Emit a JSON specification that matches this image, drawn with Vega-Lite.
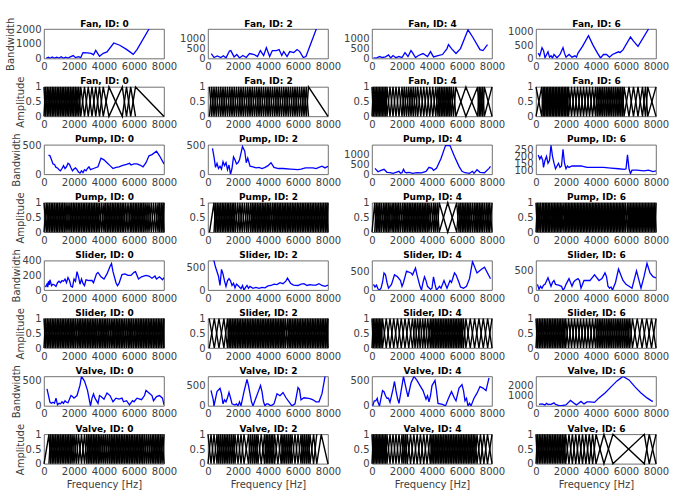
{
"$schema":"https://vega.github.io/schema/vega-lite/v6.json",
"padding":{"left":5,"top":16,"right":5,"bottom":3},
"columns":4,
"spacing":{"row":27.9,"column":44},
"bounds":"flush",
"concat":[
{"data":{"name":"bF0"},"encoding":{"y":{"field":"v","type":"quantitative","scale":{"domain":[0,2000]},"axis":{"values":[0,1000,2000],"title":"Bandwidth"}}},"layer":[{"mark":{"type":"line","clip":true,"color":"#0000ff","strokeWidth":1.3},"encoding":{"x":{"field":"f","type":"quantitative","scale":{"domain":[0,8000]},"axis":{"values":[0,2000,4000,6000,8000],"title":null,"labelOverlap":false}}}},{"mark":{"type":"line","strokeOpacity":0},"encoding":{"x":{"field":"f","type":"quantitative","axis":{"orient":"top","title":"Fan, ID: 0"}}}}],"resolve":{"axis":{"x":"independent"}}},
{"data":{"name":"bF2"},"encoding":{"y":{"field":"v","type":"quantitative","scale":{"domain":[0,1490]},"axis":{"values":[0,500,1000],"title":null}}},"layer":[{"mark":{"type":"line","clip":true,"color":"#0000ff","strokeWidth":1.3},"encoding":{"x":{"field":"f","type":"quantitative","scale":{"domain":[0,8000]},"axis":{"values":[0,2000,4000,6000,8000],"title":null,"labelOverlap":false}}}},{"mark":{"type":"line","strokeOpacity":0},"encoding":{"x":{"field":"f","type":"quantitative","axis":{"orient":"top","title":"Fan, ID: 2"}}}}],"resolve":{"axis":{"x":"independent"}}},
{"data":{"name":"bF4"},"encoding":{"y":{"field":"v","type":"quantitative","scale":{"domain":[0,1490]},"axis":{"values":[0,500,1000],"title":null}}},"layer":[{"mark":{"type":"line","clip":true,"color":"#0000ff","strokeWidth":1.3},"encoding":{"x":{"field":"f","type":"quantitative","scale":{"domain":[0,8000]},"axis":{"values":[0,2000,4000,6000,8000],"title":null,"labelOverlap":false}}}},{"mark":{"type":"line","strokeOpacity":0},"encoding":{"x":{"field":"f","type":"quantitative","axis":{"orient":"top","title":"Fan, ID: 4"}}}}],"resolve":{"axis":{"x":"independent"}}},
{"data":{"name":"bF6"},"encoding":{"y":{"field":"v","type":"quantitative","scale":{"domain":[0,1100]},"axis":{"values":[0,500,1000],"title":null}}},"layer":[{"mark":{"type":"line","clip":true,"color":"#0000ff","strokeWidth":1.3},"encoding":{"x":{"field":"f","type":"quantitative","scale":{"domain":[0,8000]},"axis":{"values":[0,2000,4000,6000,8000],"title":null,"labelOverlap":false}}}},{"mark":{"type":"line","strokeOpacity":0},"encoding":{"x":{"field":"f","type":"quantitative","axis":{"orient":"top","title":"Fan, ID: 6"}}}}],"resolve":{"axis":{"x":"independent"}}},
{"data":{"name":"aF0"},"layer":[{"mark":{"type":"line","color":"#000","strokeWidth":1.4},"encoding":{"x":{"field":"f","type":"quantitative","scale":{"domain":[0,8000]},"axis":{"values":[0,2000,4000,6000,8000],"title":null,"labelOverlap":false}},"y":{"field":"u","type":"quantitative","scale":{"domain":[0,1]},"axis":{"values":[0,0.5,1],"format":".1~f","title":"Amplitude"}}}},{"transform":[{"filter":"!datum.s"}],"mark":{"type":"line","color":"#000","strokeWidth":1.4},"encoding":{"x":{"field":"f","type":"quantitative","axis":{"orient":"top","title":"Fan, ID: 0"}},"y":{"field":"u","type":"quantitative","scale":{"domain":[0,1],"reverse":true},"axis":null}}}],"resolve":{"scale":{"y":"independent"},"axis":{"x":"independent"}}},
{"data":{"name":"aF2"},"layer":[{"mark":{"type":"line","color":"#000","strokeWidth":1.4},"encoding":{"x":{"field":"f","type":"quantitative","scale":{"domain":[0,8000]},"axis":{"values":[0,2000,4000,6000,8000],"title":null,"labelOverlap":false}},"y":{"field":"u","type":"quantitative","scale":{"domain":[0,1]},"axis":{"values":[0,0.5,1],"format":".1~f","title":null}}}},{"transform":[{"filter":"!datum.s"}],"mark":{"type":"line","color":"#000","strokeWidth":1.4},"encoding":{"x":{"field":"f","type":"quantitative","axis":{"orient":"top","title":"Fan, ID: 2"}},"y":{"field":"u","type":"quantitative","scale":{"domain":[0,1],"reverse":true},"axis":null}}}],"resolve":{"scale":{"y":"independent"},"axis":{"x":"independent"}}},
{"data":{"name":"aF4"},"layer":[{"mark":{"type":"line","color":"#000","strokeWidth":1.4},"encoding":{"x":{"field":"f","type":"quantitative","scale":{"domain":[0,8000]},"axis":{"values":[0,2000,4000,6000,8000],"title":null,"labelOverlap":false}},"y":{"field":"u","type":"quantitative","scale":{"domain":[0,1]},"axis":{"values":[0,0.5,1],"format":".1~f","title":null}}}},{"transform":[{"filter":"!datum.s"}],"mark":{"type":"line","color":"#000","strokeWidth":1.4},"encoding":{"x":{"field":"f","type":"quantitative","axis":{"orient":"top","title":"Fan, ID: 4"}},"y":{"field":"u","type":"quantitative","scale":{"domain":[0,1],"reverse":true},"axis":null}}}],"resolve":{"scale":{"y":"independent"},"axis":{"x":"independent"}}},
{"data":{"name":"aF6"},"layer":[{"mark":{"type":"line","color":"#000","strokeWidth":1.4},"encoding":{"x":{"field":"f","type":"quantitative","scale":{"domain":[0,8000]},"axis":{"values":[0,2000,4000,6000,8000],"title":null,"labelOverlap":false}},"y":{"field":"u","type":"quantitative","scale":{"domain":[0,1]},"axis":{"values":[0,0.5,1],"format":".1~f","title":null}}}},{"transform":[{"filter":"!datum.s"}],"mark":{"type":"line","color":"#000","strokeWidth":1.4},"encoding":{"x":{"field":"f","type":"quantitative","axis":{"orient":"top","title":"Fan, ID: 6"}},"y":{"field":"u","type":"quantitative","scale":{"domain":[0,1],"reverse":true},"axis":null}}}],"resolve":{"scale":{"y":"independent"},"axis":{"x":"independent"}}},
{"data":{"name":"bP0"},"encoding":{"y":{"field":"v","type":"quantitative","scale":{"domain":[0,510]},"axis":{"values":[0,500],"title":"Bandwidth"}}},"layer":[{"mark":{"type":"line","clip":true,"color":"#0000ff","strokeWidth":1.3},"encoding":{"x":{"field":"f","type":"quantitative","scale":{"domain":[0,8000]},"axis":{"values":[0,2000,4000,6000,8000],"title":null,"labelOverlap":false}}}},{"mark":{"type":"line","strokeOpacity":0},"encoding":{"x":{"field":"f","type":"quantitative","axis":{"orient":"top","title":"Pump, ID: 0"}}}}],"resolve":{"axis":{"x":"independent"}}},
{"data":{"name":"bP2"},"encoding":{"y":{"field":"v","type":"quantitative","scale":{"domain":[0,510]},"axis":{"values":[0,500],"title":null}}},"layer":[{"mark":{"type":"line","clip":true,"color":"#0000ff","strokeWidth":1.3},"encoding":{"x":{"field":"f","type":"quantitative","scale":{"domain":[0,8000]},"axis":{"values":[0,2000,4000,6000,8000],"title":null,"labelOverlap":false}}}},{"mark":{"type":"line","strokeOpacity":0},"encoding":{"x":{"field":"f","type":"quantitative","axis":{"orient":"top","title":"Pump, ID: 2"}}}}],"resolve":{"axis":{"x":"independent"}}},
{"data":{"name":"bP4"},"encoding":{"y":{"field":"v","type":"quantitative","scale":{"domain":[0,1490]},"axis":{"values":[0,500,1000],"title":null}}},"layer":[{"mark":{"type":"line","clip":true,"color":"#0000ff","strokeWidth":1.3},"encoding":{"x":{"field":"f","type":"quantitative","scale":{"domain":[0,8000]},"axis":{"values":[0,2000,4000,6000,8000],"title":null,"labelOverlap":false}}}},{"mark":{"type":"line","strokeOpacity":0},"encoding":{"x":{"field":"f","type":"quantitative","axis":{"orient":"top","title":"Pump, ID: 4"}}}}],"resolve":{"axis":{"x":"independent"}}},
{"data":{"name":"bP6"},"encoding":{"y":{"field":"v","type":"quantitative","scale":{"domain":[70,283]},"axis":{"values":[100,150,200,250],"title":null}}},"layer":[{"mark":{"type":"line","clip":true,"color":"#0000ff","strokeWidth":1.3},"encoding":{"x":{"field":"f","type":"quantitative","scale":{"domain":[0,8000]},"axis":{"values":[0,2000,4000,6000,8000],"title":null,"labelOverlap":false}}}},{"mark":{"type":"line","strokeOpacity":0},"encoding":{"x":{"field":"f","type":"quantitative","axis":{"orient":"top","title":"Pump, ID: 6"}}}}],"resolve":{"axis":{"x":"independent"}}},
{"data":{"name":"aP0"},"layer":[{"mark":{"type":"line","color":"#000","strokeWidth":1.4},"encoding":{"x":{"field":"f","type":"quantitative","scale":{"domain":[0,8000]},"axis":{"values":[0,2000,4000,6000,8000],"title":null,"labelOverlap":false}},"y":{"field":"u","type":"quantitative","scale":{"domain":[0,1]},"axis":{"values":[0,0.5,1],"format":".1~f","title":"Amplitude"}}}},{"transform":[{"filter":"!datum.s"}],"mark":{"type":"line","color":"#000","strokeWidth":1.4},"encoding":{"x":{"field":"f","type":"quantitative","axis":{"orient":"top","title":"Pump, ID: 0"}},"y":{"field":"u","type":"quantitative","scale":{"domain":[0,1],"reverse":true},"axis":null}}}],"resolve":{"scale":{"y":"independent"},"axis":{"x":"independent"}}},
{"data":{"name":"aP2"},"layer":[{"mark":{"type":"line","color":"#000","strokeWidth":1.4},"encoding":{"x":{"field":"f","type":"quantitative","scale":{"domain":[0,8000]},"axis":{"values":[0,2000,4000,6000,8000],"title":null,"labelOverlap":false}},"y":{"field":"u","type":"quantitative","scale":{"domain":[0,1]},"axis":{"values":[0,0.5,1],"format":".1~f","title":null}}}},{"transform":[{"filter":"!datum.s"}],"mark":{"type":"line","color":"#000","strokeWidth":1.4},"encoding":{"x":{"field":"f","type":"quantitative","axis":{"orient":"top","title":"Pump, ID: 2"}},"y":{"field":"u","type":"quantitative","scale":{"domain":[0,1],"reverse":true},"axis":null}}}],"resolve":{"scale":{"y":"independent"},"axis":{"x":"independent"}}},
{"data":{"name":"aP4"},"layer":[{"mark":{"type":"line","color":"#000","strokeWidth":1.4},"encoding":{"x":{"field":"f","type":"quantitative","scale":{"domain":[0,8000]},"axis":{"values":[0,2000,4000,6000,8000],"title":null,"labelOverlap":false}},"y":{"field":"u","type":"quantitative","scale":{"domain":[0,1]},"axis":{"values":[0,0.5,1],"format":".1~f","title":null}}}},{"transform":[{"filter":"!datum.s"}],"mark":{"type":"line","color":"#000","strokeWidth":1.4},"encoding":{"x":{"field":"f","type":"quantitative","axis":{"orient":"top","title":"Pump, ID: 4"}},"y":{"field":"u","type":"quantitative","scale":{"domain":[0,1],"reverse":true},"axis":null}}}],"resolve":{"scale":{"y":"independent"},"axis":{"x":"independent"}}},
{"data":{"name":"aP6"},"layer":[{"mark":{"type":"line","color":"#000","strokeWidth":1.4},"encoding":{"x":{"field":"f","type":"quantitative","scale":{"domain":[0,8000]},"axis":{"values":[0,2000,4000,6000,8000],"title":null,"labelOverlap":false}},"y":{"field":"u","type":"quantitative","scale":{"domain":[0,1]},"axis":{"values":[0,0.5,1],"format":".1~f","title":null}}}},{"transform":[{"filter":"!datum.s"}],"mark":{"type":"line","color":"#000","strokeWidth":1.4},"encoding":{"x":{"field":"f","type":"quantitative","axis":{"orient":"top","title":"Pump, ID: 6"}},"y":{"field":"u","type":"quantitative","scale":{"domain":[0,1],"reverse":true},"axis":null}}}],"resolve":{"scale":{"y":"independent"},"axis":{"x":"independent"}}},
{"data":{"name":"bS0"},"encoding":{"y":{"field":"v","type":"quantitative","scale":{"domain":[0,400]},"axis":{"values":[0,200,400],"title":"Bandwidth"}}},"layer":[{"mark":{"type":"line","clip":true,"color":"#0000ff","strokeWidth":1.3},"encoding":{"x":{"field":"f","type":"quantitative","scale":{"domain":[0,8000]},"axis":{"values":[0,2000,4000,6000,8000],"title":null,"labelOverlap":false}}}},{"mark":{"type":"line","strokeOpacity":0},"encoding":{"x":{"field":"f","type":"quantitative","axis":{"orient":"top","title":"Slider, ID: 0"}}}}],"resolve":{"axis":{"x":"independent"}}},
{"data":{"name":"bS2"},"encoding":{"y":{"field":"v","type":"quantitative","scale":{"domain":[0,640]},"axis":{"values":[0,500],"title":null}}},"layer":[{"mark":{"type":"line","clip":true,"color":"#0000ff","strokeWidth":1.3},"encoding":{"x":{"field":"f","type":"quantitative","scale":{"domain":[0,8000]},"axis":{"values":[0,2000,4000,6000,8000],"title":null,"labelOverlap":false}}}},{"mark":{"type":"line","strokeOpacity":0},"encoding":{"x":{"field":"f","type":"quantitative","axis":{"orient":"top","title":"Slider, ID: 2"}}}}],"resolve":{"axis":{"x":"independent"}}},
{"data":{"name":"bS4"},"encoding":{"y":{"field":"v","type":"quantitative","scale":{"domain":[0,775]},"axis":{"values":[0,500],"title":null}}},"layer":[{"mark":{"type":"line","clip":true,"color":"#0000ff","strokeWidth":1.3},"encoding":{"x":{"field":"f","type":"quantitative","scale":{"domain":[0,8000]},"axis":{"values":[0,2000,4000,6000,8000],"title":null,"labelOverlap":false}}}},{"mark":{"type":"line","strokeOpacity":0},"encoding":{"x":{"field":"f","type":"quantitative","axis":{"orient":"top","title":"Slider, ID: 4"}}}}],"resolve":{"axis":{"x":"independent"}}},
{"data":{"name":"bS6"},"encoding":{"y":{"field":"v","type":"quantitative","scale":{"domain":[0,770]},"axis":{"values":[0,500],"title":null}}},"layer":[{"mark":{"type":"line","clip":true,"color":"#0000ff","strokeWidth":1.3},"encoding":{"x":{"field":"f","type":"quantitative","scale":{"domain":[0,8000]},"axis":{"values":[0,2000,4000,6000,8000],"title":null,"labelOverlap":false}}}},{"mark":{"type":"line","strokeOpacity":0},"encoding":{"x":{"field":"f","type":"quantitative","axis":{"orient":"top","title":"Slider, ID: 6"}}}}],"resolve":{"axis":{"x":"independent"}}},
{"data":{"name":"aS0"},"layer":[{"mark":{"type":"line","color":"#000","strokeWidth":1.4},"encoding":{"x":{"field":"f","type":"quantitative","scale":{"domain":[0,8000]},"axis":{"values":[0,2000,4000,6000,8000],"title":null,"labelOverlap":false}},"y":{"field":"u","type":"quantitative","scale":{"domain":[0,1]},"axis":{"values":[0,0.5,1],"format":".1~f","title":"Amplitude"}}}},{"transform":[{"filter":"!datum.s"}],"mark":{"type":"line","color":"#000","strokeWidth":1.4},"encoding":{"x":{"field":"f","type":"quantitative","axis":{"orient":"top","title":"Slider, ID: 0"}},"y":{"field":"u","type":"quantitative","scale":{"domain":[0,1],"reverse":true},"axis":null}}}],"resolve":{"scale":{"y":"independent"},"axis":{"x":"independent"}}},
{"data":{"name":"aS2"},"layer":[{"mark":{"type":"line","color":"#000","strokeWidth":1.4},"encoding":{"x":{"field":"f","type":"quantitative","scale":{"domain":[0,8000]},"axis":{"values":[0,2000,4000,6000,8000],"title":null,"labelOverlap":false}},"y":{"field":"u","type":"quantitative","scale":{"domain":[0,1]},"axis":{"values":[0,0.5,1],"format":".1~f","title":null}}}},{"transform":[{"filter":"!datum.s"}],"mark":{"type":"line","color":"#000","strokeWidth":1.4},"encoding":{"x":{"field":"f","type":"quantitative","axis":{"orient":"top","title":"Slider, ID: 2"}},"y":{"field":"u","type":"quantitative","scale":{"domain":[0,1],"reverse":true},"axis":null}}}],"resolve":{"scale":{"y":"independent"},"axis":{"x":"independent"}}},
{"data":{"name":"aS4"},"layer":[{"mark":{"type":"line","color":"#000","strokeWidth":1.4},"encoding":{"x":{"field":"f","type":"quantitative","scale":{"domain":[0,8000]},"axis":{"values":[0,2000,4000,6000,8000],"title":null,"labelOverlap":false}},"y":{"field":"u","type":"quantitative","scale":{"domain":[0,1]},"axis":{"values":[0,0.5,1],"format":".1~f","title":null}}}},{"transform":[{"filter":"!datum.s"}],"mark":{"type":"line","color":"#000","strokeWidth":1.4},"encoding":{"x":{"field":"f","type":"quantitative","axis":{"orient":"top","title":"Slider, ID: 4"}},"y":{"field":"u","type":"quantitative","scale":{"domain":[0,1],"reverse":true},"axis":null}}}],"resolve":{"scale":{"y":"independent"},"axis":{"x":"independent"}}},
{"data":{"name":"aS6"},"layer":[{"mark":{"type":"line","color":"#000","strokeWidth":1.4},"encoding":{"x":{"field":"f","type":"quantitative","scale":{"domain":[0,8000]},"axis":{"values":[0,2000,4000,6000,8000],"title":null,"labelOverlap":false}},"y":{"field":"u","type":"quantitative","scale":{"domain":[0,1]},"axis":{"values":[0,0.5,1],"format":".1~f","title":null}}}},{"transform":[{"filter":"!datum.s"}],"mark":{"type":"line","color":"#000","strokeWidth":1.4},"encoding":{"x":{"field":"f","type":"quantitative","axis":{"orient":"top","title":"Slider, ID: 6"}},"y":{"field":"u","type":"quantitative","scale":{"domain":[0,1],"reverse":true},"axis":null}}}],"resolve":{"scale":{"y":"independent"},"axis":{"x":"independent"}}},
{"data":{"name":"bV0"},"encoding":{"y":{"field":"v","type":"quantitative","scale":{"domain":[0,570]},"axis":{"values":[0,500],"title":"Bandwidth"}}},"layer":[{"mark":{"type":"line","clip":true,"color":"#0000ff","strokeWidth":1.3},"encoding":{"x":{"field":"f","type":"quantitative","scale":{"domain":[0,8000]},"axis":{"values":[0,2000,4000,6000,8000],"title":null,"labelOverlap":false}}}},{"mark":{"type":"line","strokeOpacity":0},"encoding":{"x":{"field":"f","type":"quantitative","axis":{"orient":"top","title":"Valve, ID: 0"}}}}],"resolve":{"axis":{"x":"independent"}}},
{"data":{"name":"bV2"},"encoding":{"y":{"field":"v","type":"quantitative","scale":{"domain":[0,725]},"axis":{"values":[0,500],"title":null}}},"layer":[{"mark":{"type":"line","clip":true,"color":"#0000ff","strokeWidth":1.3},"encoding":{"x":{"field":"f","type":"quantitative","scale":{"domain":[0,8000]},"axis":{"values":[0,2000,4000,6000,8000],"title":null,"labelOverlap":false}}}},{"mark":{"type":"line","strokeOpacity":0},"encoding":{"x":{"field":"f","type":"quantitative","axis":{"orient":"top","title":"Valve, ID: 2"}}}}],"resolve":{"axis":{"x":"independent"}}},
{"data":{"name":"bV4"},"encoding":{"y":{"field":"v","type":"quantitative","scale":{"domain":[0,580]},"axis":{"values":[0,500],"title":null}}},"layer":[{"mark":{"type":"line","clip":true,"color":"#0000ff","strokeWidth":1.3},"encoding":{"x":{"field":"f","type":"quantitative","scale":{"domain":[0,8000]},"axis":{"values":[0,2000,4000,6000,8000],"title":null,"labelOverlap":false}}}},{"mark":{"type":"line","strokeOpacity":0},"encoding":{"x":{"field":"f","type":"quantitative","axis":{"orient":"top","title":"Valve, ID: 4"}}}}],"resolve":{"axis":{"x":"independent"}}},
{"data":{"name":"bV6"},"encoding":{"y":{"field":"v","type":"quantitative","scale":{"domain":[0,2950]},"axis":{"values":[0,1000,2000],"title":null}}},"layer":[{"mark":{"type":"line","clip":true,"color":"#0000ff","strokeWidth":1.3},"encoding":{"x":{"field":"f","type":"quantitative","scale":{"domain":[0,8000]},"axis":{"values":[0,2000,4000,6000,8000],"title":null,"labelOverlap":false}}}},{"mark":{"type":"line","strokeOpacity":0},"encoding":{"x":{"field":"f","type":"quantitative","axis":{"orient":"top","title":"Valve, ID: 6"}}}}],"resolve":{"axis":{"x":"independent"}}},
{"data":{"name":"aV0"},"layer":[{"mark":{"type":"line","color":"#000","strokeWidth":1.4},"encoding":{"x":{"field":"f","type":"quantitative","scale":{"domain":[0,8000]},"axis":{"values":[0,2000,4000,6000,8000],"title":"Frequency [Hz]","labelOverlap":false}},"y":{"field":"u","type":"quantitative","scale":{"domain":[0,1]},"axis":{"values":[0,0.5,1],"format":".1~f","title":"Amplitude"}}}},{"transform":[{"filter":"!datum.s"}],"mark":{"type":"line","color":"#000","strokeWidth":1.4},"encoding":{"x":{"field":"f","type":"quantitative","axis":{"orient":"top","title":"Valve, ID: 0"}},"y":{"field":"u","type":"quantitative","scale":{"domain":[0,1],"reverse":true},"axis":null}}}],"resolve":{"scale":{"y":"independent"},"axis":{"x":"independent"}}},
{"data":{"name":"aV2"},"layer":[{"mark":{"type":"line","color":"#000","strokeWidth":1.4},"encoding":{"x":{"field":"f","type":"quantitative","scale":{"domain":[0,8000]},"axis":{"values":[0,2000,4000,6000,8000],"title":"Frequency [Hz]","labelOverlap":false}},"y":{"field":"u","type":"quantitative","scale":{"domain":[0,1]},"axis":{"values":[0,0.5,1],"format":".1~f","title":null}}}},{"transform":[{"filter":"!datum.s"}],"mark":{"type":"line","color":"#000","strokeWidth":1.4},"encoding":{"x":{"field":"f","type":"quantitative","axis":{"orient":"top","title":"Valve, ID: 2"}},"y":{"field":"u","type":"quantitative","scale":{"domain":[0,1],"reverse":true},"axis":null}}}],"resolve":{"scale":{"y":"independent"},"axis":{"x":"independent"}}},
{"data":{"name":"aV4"},"layer":[{"mark":{"type":"line","color":"#000","strokeWidth":1.4},"encoding":{"x":{"field":"f","type":"quantitative","scale":{"domain":[0,8000]},"axis":{"values":[0,2000,4000,6000,8000],"title":"Frequency [Hz]","labelOverlap":false}},"y":{"field":"u","type":"quantitative","scale":{"domain":[0,1]},"axis":{"values":[0,0.5,1],"format":".1~f","title":null}}}},{"transform":[{"filter":"!datum.s"}],"mark":{"type":"line","color":"#000","strokeWidth":1.4},"encoding":{"x":{"field":"f","type":"quantitative","axis":{"orient":"top","title":"Valve, ID: 4"}},"y":{"field":"u","type":"quantitative","scale":{"domain":[0,1],"reverse":true},"axis":null}}}],"resolve":{"scale":{"y":"independent"},"axis":{"x":"independent"}}},
{"data":{"name":"aV6"},"layer":[{"mark":{"type":"line","color":"#000","strokeWidth":1.4},"encoding":{"x":{"field":"f","type":"quantitative","scale":{"domain":[0,8000]},"axis":{"values":[0,2000,4000,6000,8000],"title":"Frequency [Hz]","labelOverlap":false}},"y":{"field":"u","type":"quantitative","scale":{"domain":[0,1]},"axis":{"values":[0,0.5,1],"format":".1~f","title":null}}}},{"transform":[{"filter":"!datum.s"}],"mark":{"type":"line","color":"#000","strokeWidth":1.4},"encoding":{"x":{"field":"f","type":"quantitative","axis":{"orient":"top","title":"Valve, ID: 6"}},"y":{"field":"u","type":"quantitative","scale":{"domain":[0,1],"reverse":true},"axis":null}}}],"resolve":{"scale":{"y":"independent"},"axis":{"x":"independent"}}}
],
"datasets":{
"bF0":[{"f":150,"v":30},{"f":300,"v":80},{"f":400,"v":20},{"f":550,"v":100},{"f":700,"v":20},{"f":850,"v":90},{"f":1000,"v":30},{"f":1150,"v":120},{"f":1300,"v":20},{"f":1450,"v":90},{"f":1600,"v":30},{"f":1750,"v":110},{"f":1950,"v":200},{"f":2100,"v":60},{"f":2300,"v":130},{"f":2450,"v":60},{"f":2600,"v":400},{"f":2900,"v":380},{"f":3150,"v":350},{"f":3300,"v":250},{"f":3450,"v":550},{"f":3700,"v":150},{"f":3950,"v":350},{"f":4200,"v":450},{"f":4650,"v":1050},{"f":5050,"v":900},{"f":5500,"v":620},{"f":5950,"v":280},{"f":6200,"v":600},{"f":7000,"v":2000},{"f":7500,"v":2700}],
"bF2":[{"f":220,"v":250},{"f":400,"v":50},{"f":620,"v":130},{"f":850,"v":50},{"f":1030,"v":140},{"f":1200,"v":30},{"f":1430,"v":380},{"f":1520,"v":400},{"f":1740,"v":80},{"f":1920,"v":200},{"f":2100,"v":30},{"f":2320,"v":150},{"f":2550,"v":50},{"f":2770,"v":250},{"f":3080,"v":200},{"f":3300,"v":100},{"f":3490,"v":400},{"f":3710,"v":150},{"f":3890,"v":550},{"f":4110,"v":100},{"f":4290,"v":400},{"f":4560,"v":400},{"f":4740,"v":450},{"f":4920,"v":150},{"f":5050,"v":350},{"f":5270,"v":100},{"f":5450,"v":350},{"f":5720,"v":300},{"f":5940,"v":450},{"f":6120,"v":350},{"f":6350,"v":50},{"f":6530,"v":100},{"f":7220,"v":1490},{"f":7400,"v":1800}],
"bF4":[{"f":100,"v":30},{"f":300,"v":20},{"f":500,"v":100},{"f":700,"v":50},{"f":900,"v":80},{"f":1100,"v":180},{"f":1250,"v":30},{"f":1400,"v":150},{"f":1600,"v":40},{"f":1800,"v":100},{"f":2000,"v":50},{"f":2200,"v":300},{"f":2400,"v":100},{"f":2600,"v":400},{"f":2700,"v":300},{"f":2900,"v":50},{"f":3100,"v":150},{"f":3400,"v":250},{"f":3700,"v":100},{"f":3900,"v":350},{"f":4100,"v":80},{"f":4400,"v":150},{"f":4700,"v":200},{"f":5000,"v":500},{"f":5100,"v":700},{"f":5300,"v":500},{"f":5600,"v":250},{"f":5900,"v":500},{"f":6400,"v":1450},{"f":6700,"v":1100},{"f":7200,"v":450},{"f":7400,"v":400},{"f":7700,"v":700}],
"bF6":[{"f":150,"v":200},{"f":250,"v":100},{"f":400,"v":400},{"f":500,"v":300},{"f":600,"v":30},{"f":800,"v":250},{"f":900,"v":50},{"f":1000,"v":100},{"f":1100,"v":20},{"f":1200,"v":150},{"f":1400,"v":30},{"f":1600,"v":150},{"f":1800,"v":400},{"f":1900,"v":200},{"f":2000,"v":50},{"f":2200,"v":150},{"f":2400,"v":50},{"f":2600,"v":100},{"f":2700,"v":50},{"f":2800,"v":200},{"f":3100,"v":450},{"f":3500,"v":850},{"f":3800,"v":500},{"f":4100,"v":200},{"f":4300,"v":20},{"f":4500,"v":150},{"f":4700,"v":150},{"f":4900,"v":50},{"f":5100,"v":150},{"f":5300,"v":200},{"f":5500,"v":250},{"f":5600,"v":220},{"f":5800,"v":320},{"f":6300,"v":800},{"f":6500,"v":650},{"f":6800,"v":450},{"f":7500,"v":1100},{"f":7700,"v":1300}],
"bP0":[{"f":300,"v":330},{"f":400,"v":320},{"f":500,"v":250},{"f":600,"v":180},{"f":700,"v":170},{"f":800,"v":120},{"f":900,"v":110},{"f":1000,"v":80},{"f":1100,"v":60},{"f":1200,"v":100},{"f":1300,"v":150},{"f":1400,"v":100},{"f":1500,"v":130},{"f":1600,"v":190},{"f":1700,"v":170},{"f":1800,"v":110},{"f":1900,"v":60},{"f":2000,"v":90},{"f":2100,"v":110},{"f":2200,"v":80},{"f":2300,"v":40},{"f":2400,"v":20},{"f":2500,"v":60},{"f":2600,"v":30},{"f":2700,"v":80},{"f":2800,"v":60},{"f":2900,"v":100},{"f":3000,"v":130},{"f":3100,"v":80},{"f":3300,"v":100},{"f":3600,"v":130},{"f":3800,"v":280},{"f":4000,"v":250},{"f":4200,"v":200},{"f":4400,"v":150},{"f":4600,"v":100},{"f":4800,"v":120},{"f":5000,"v":130},{"f":5200,"v":150},{"f":5500,"v":170},{"f":5700,"v":190},{"f":5800,"v":160},{"f":6000,"v":180},{"f":6200,"v":180},{"f":6400,"v":160},{"f":6600,"v":130},{"f":6800,"v":200},{"f":7000,"v":320},{"f":7200,"v":340},{"f":7500,"v":400},{"f":7700,"v":320},{"f":8000,"v":180}],
"bP2":[{"f":300,"v":450},{"f":400,"v":300},{"f":500,"v":120},{"f":600,"v":190},{"f":700,"v":100},{"f":800,"v":140},{"f":900,"v":90},{"f":1000,"v":220},{"f":1100,"v":150},{"f":1200,"v":200},{"f":1300,"v":80},{"f":1400,"v":160},{"f":1500,"v":0},{"f":1600,"v":100},{"f":1700,"v":300},{"f":1800,"v":250},{"f":1900,"v":180},{"f":2000,"v":200},{"f":2100,"v":250},{"f":2300,"v":480},{"f":2450,"v":400},{"f":2550,"v":200},{"f":2650,"v":280},{"f":2800,"v":140},{"f":3000,"v":130},{"f":3200,"v":110},{"f":3400,"v":120},{"f":3600,"v":100},{"f":3800,"v":120},{"f":4000,"v":150},{"f":4200,"v":200},{"f":4400,"v":120},{"f":4700,"v":100},{"f":5000,"v":100},{"f":5500,"v":90},{"f":6000,"v":80},{"f":6200,"v":90},{"f":6500,"v":110},{"f":7000,"v":110},{"f":7200,"v":100},{"f":7400,"v":120},{"f":7600,"v":140},{"f":7800,"v":110},{"f":8000,"v":140}],
"bP4":[{"f":200,"v":300},{"f":400,"v":130},{"f":600,"v":200},{"f":800,"v":250},{"f":1000,"v":100},{"f":1200,"v":80},{"f":1400,"v":50},{"f":1600,"v":100},{"f":1800,"v":150},{"f":1900,"v":50},{"f":2000,"v":80},{"f":2100,"v":250},{"f":2200,"v":100},{"f":2300,"v":80},{"f":2500,"v":100},{"f":2700,"v":50},{"f":3000,"v":80},{"f":3300,"v":70},{"f":3600,"v":150},{"f":3800,"v":350},{"f":4000,"v":300},{"f":4100,"v":200},{"f":4300,"v":300},{"f":4600,"v":800},{"f":4900,"v":1450},{"f":5200,"v":1450},{"f":5500,"v":900},{"f":5800,"v":400},{"f":6000,"v":150},{"f":6200,"v":80},{"f":6500,"v":50},{"f":6700,"v":150},{"f":6800,"v":50},{"f":7000,"v":230},{"f":7200,"v":100},{"f":7500,"v":80},{"f":7800,"v":300},{"f":7900,"v":400}],
"bP6":[{"f":150,"v":210},{"f":250,"v":180},{"f":350,"v":200},{"f":450,"v":170},{"f":500,"v":120},{"f":600,"v":170},{"f":700,"v":200},{"f":800,"v":150},{"f":900,"v":170},{"f":1000,"v":280},{"f":1100,"v":200},{"f":1200,"v":150},{"f":1300,"v":110},{"f":1400,"v":130},{"f":1500,"v":150},{"f":1600,"v":120},{"f":1700,"v":130},{"f":1800,"v":250},{"f":1900,"v":150},{"f":2000,"v":110},{"f":2100,"v":130},{"f":2200,"v":120},{"f":2400,"v":130},{"f":2600,"v":130},{"f":3000,"v":130},{"f":3400,"v":120},{"f":4000,"v":120},{"f":4500,"v":120},{"f":5000,"v":115},{"f":5500,"v":110},{"f":5900,"v":105},{"f":6000,"v":110},{"f":6100,"v":210},{"f":6200,"v":110},{"f":6300,"v":75},{"f":6400,"v":100},{"f":6700,"v":100},{"f":7200,"v":95},{"f":7500,"v":100},{"f":7800,"v":90},{"f":8000,"v":95}],
"bS0":[{"f":100,"v":40},{"f":200,"v":80},{"f":250,"v":40},{"f":300,"v":120},{"f":350,"v":70},{"f":400,"v":140},{"f":500,"v":60},{"f":600,"v":80},{"f":700,"v":70},{"f":800,"v":50},{"f":900,"v":100},{"f":1000,"v":120},{"f":1100,"v":100},{"f":1200,"v":130},{"f":1300,"v":120},{"f":1400,"v":150},{"f":1500,"v":100},{"f":1600,"v":170},{"f":1700,"v":130},{"f":1800,"v":50},{"f":1900,"v":40},{"f":2000,"v":150},{"f":2100,"v":120},{"f":2200,"v":250},{"f":2300,"v":180},{"f":2400,"v":80},{"f":2500,"v":150},{"f":2600,"v":90},{"f":2700,"v":60},{"f":2800,"v":140},{"f":3000,"v":130},{"f":3200,"v":130},{"f":3300,"v":100},{"f":3500,"v":220},{"f":3600,"v":240},{"f":3800,"v":180},{"f":4000,"v":150},{"f":4200,"v":220},{"f":4400,"v":320},{"f":4500,"v":360},{"f":4600,"v":250},{"f":4800,"v":100},{"f":4900,"v":60},{"f":5000,"v":90},{"f":5200,"v":210},{"f":5400,"v":220},{"f":5600,"v":200},{"f":5800,"v":200},{"f":6000,"v":240},{"f":6100,"v":250},{"f":6300,"v":150},{"f":6500,"v":180},{"f":6800,"v":200},{"f":7000,"v":190},{"f":7200,"v":160},{"f":7400,"v":190},{"f":7500,"v":150},{"f":7700,"v":180},{"f":7900,"v":140},{"f":8000,"v":170}],
"bS2":[{"f":350,"v":700},{"f":500,"v":500},{"f":700,"v":300},{"f":800,"v":100},{"f":900,"v":450},{"f":1000,"v":350},{"f":1100,"v":200},{"f":1200,"v":80},{"f":1300,"v":200},{"f":1400,"v":250},{"f":1500,"v":200},{"f":1600,"v":100},{"f":1700,"v":150},{"f":1800,"v":50},{"f":1900,"v":130},{"f":2000,"v":100},{"f":2200,"v":30},{"f":2300,"v":100},{"f":2400,"v":0},{"f":2500,"v":60},{"f":2600,"v":100},{"f":2700,"v":40},{"f":2800,"v":80},{"f":3000,"v":40},{"f":3200,"v":60},{"f":3400,"v":40},{"f":3600,"v":60},{"f":3800,"v":50},{"f":4000,"v":90},{"f":4200,"v":100},{"f":4400,"v":130},{"f":4600,"v":120},{"f":4800,"v":160},{"f":5000,"v":140},{"f":5200,"v":200},{"f":5300,"v":260},{"f":5500,"v":150},{"f":5700,"v":110},{"f":6000,"v":100},{"f":6200,"v":130},{"f":6400,"v":140},{"f":6600,"v":100},{"f":6800,"v":120},{"f":7000,"v":110},{"f":7200,"v":110},{"f":7400,"v":140},{"f":7600,"v":100},{"f":7800,"v":80},{"f":8000,"v":110}],
"bS4":[{"f":100,"v":150},{"f":200,"v":80},{"f":300,"v":130},{"f":400,"v":30},{"f":500,"v":0},{"f":600,"v":50},{"f":700,"v":200},{"f":800,"v":450},{"f":900,"v":400},{"f":1000,"v":200},{"f":1100,"v":50},{"f":1200,"v":100},{"f":1300,"v":150},{"f":1500,"v":400},{"f":1700,"v":350},{"f":1900,"v":250},{"f":2000,"v":100},{"f":2100,"v":200},{"f":2300,"v":500},{"f":2600,"v":450},{"f":2700,"v":400},{"f":2900,"v":580},{"f":3000,"v":400},{"f":3200,"v":100},{"f":3300,"v":0},{"f":3400,"v":200},{"f":3500,"v":350},{"f":3600,"v":250},{"f":3700,"v":100},{"f":3900,"v":20},{"f":4000,"v":50},{"f":4100,"v":350},{"f":4200,"v":150},{"f":4300,"v":0},{"f":4500,"v":100},{"f":4600,"v":50},{"f":4800,"v":250},{"f":4900,"v":150},{"f":5000,"v":50},{"f":5200,"v":250},{"f":5300,"v":200},{"f":5500,"v":450},{"f":5600,"v":400},{"f":5800,"v":200},{"f":5900,"v":80},{"f":6100,"v":50},{"f":6300,"v":100},{"f":6500,"v":300},{"f":6700,"v":750},{"f":7000,"v":450},{"f":7300,"v":550},{"f":7500,"v":600},{"f":7900,"v":300}],
"bS6":[{"f":100,"v":150},{"f":200,"v":20},{"f":300,"v":100},{"f":400,"v":50},{"f":500,"v":130},{"f":600,"v":150},{"f":800,"v":320},{"f":1000,"v":100},{"f":1100,"v":200},{"f":1200,"v":250},{"f":1300,"v":150},{"f":1500,"v":130},{"f":1700,"v":100},{"f":1800,"v":0},{"f":1900,"v":50},{"f":2000,"v":150},{"f":2200,"v":300},{"f":2300,"v":200},{"f":2400,"v":100},{"f":2500,"v":200},{"f":2600,"v":250},{"f":2800,"v":300},{"f":2900,"v":250},{"f":3000,"v":50},{"f":3200,"v":250},{"f":3400,"v":250},{"f":3600,"v":250},{"f":3700,"v":300},{"f":3900,"v":400},{"f":4000,"v":350},{"f":4200,"v":250},{"f":4400,"v":300},{"f":4600,"v":450},{"f":4700,"v":350},{"f":4800,"v":100},{"f":4900,"v":50},{"f":5000,"v":80},{"f":5100,"v":0},{"f":5300,"v":200},{"f":5500,"v":550},{"f":5700,"v":350},{"f":5800,"v":250},{"f":6000,"v":150},{"f":6200,"v":100},{"f":6400,"v":50},{"f":6700,"v":500},{"f":6900,"v":200},{"f":7000,"v":50},{"f":7200,"v":350},{"f":7400,"v":700},{"f":7600,"v":450},{"f":7800,"v":350},{"f":8000,"v":320}],
"bV0":[{"f":200,"v":330},{"f":300,"v":200},{"f":400,"v":70},{"f":500,"v":50},{"f":600,"v":70},{"f":700,"v":50},{"f":800,"v":150},{"f":900,"v":20},{"f":1000,"v":50},{"f":1100,"v":40},{"f":1200,"v":80},{"f":1300,"v":50},{"f":1400,"v":100},{"f":1500,"v":70},{"f":1600,"v":60},{"f":1800,"v":200},{"f":1900,"v":180},{"f":2000,"v":150},{"f":2200,"v":200},{"f":2400,"v":400},{"f":2500,"v":570},{"f":2700,"v":480},{"f":2900,"v":300},{"f":3100,"v":0},{"f":3200,"v":150},{"f":3300,"v":230},{"f":3400,"v":150},{"f":3600,"v":50},{"f":3700,"v":200},{"f":3800,"v":180},{"f":4000,"v":130},{"f":4200,"v":250},{"f":4400,"v":200},{"f":4600,"v":80},{"f":4800,"v":150},{"f":5000,"v":130},{"f":5200,"v":150},{"f":5300,"v":80},{"f":5500,"v":100},{"f":5700,"v":20},{"f":5900,"v":100},{"f":6000,"v":80},{"f":6200,"v":150},{"f":6500,"v":120},{"f":6700,"v":200},{"f":6800,"v":300},{"f":7000,"v":250},{"f":7200,"v":200},{"f":7300,"v":100},{"f":7500,"v":180},{"f":7700,"v":200},{"f":7900,"v":150},{"f":8000,"v":20}],
"bV2":[{"f":200,"v":380},{"f":350,"v":150},{"f":400,"v":0},{"f":600,"v":350},{"f":800,"v":430},{"f":900,"v":300},{"f":1000,"v":50},{"f":1100,"v":150},{"f":1200,"v":100},{"f":1300,"v":200},{"f":1400,"v":330},{"f":1500,"v":200},{"f":1600,"v":50},{"f":1800,"v":20},{"f":1900,"v":50},{"f":2000,"v":0},{"f":2100,"v":100},{"f":2200,"v":0},{"f":2400,"v":350},{"f":2600,"v":650},{"f":2700,"v":500},{"f":2900,"v":100},{"f":3000,"v":0},{"f":3200,"v":200},{"f":3400,"v":400},{"f":3500,"v":500},{"f":3600,"v":350},{"f":3700,"v":100},{"f":3800,"v":0},{"f":3900,"v":50},{"f":4000,"v":50},{"f":4200,"v":0},{"f":4400,"v":50},{"f":4600,"v":300},{"f":4800,"v":250},{"f":5000,"v":330},{"f":5200,"v":200},{"f":5400,"v":100},{"f":5600,"v":0},{"f":5800,"v":50},{"f":6000,"v":450},{"f":6100,"v":400},{"f":6200,"v":150},{"f":6400,"v":200},{"f":6800,"v":180},{"f":7000,"v":150},{"f":7200,"v":100},{"f":7400,"v":100},{"f":7600,"v":300},{"f":7800,"v":720},{"f":7900,"v":900}],
"bV4":[{"f":50,"v":0},{"f":150,"v":100},{"f":250,"v":100},{"f":350,"v":150},{"f":400,"v":70},{"f":500,"v":0},{"f":600,"v":150},{"f":700,"v":300},{"f":800,"v":280},{"f":900,"v":200},{"f":1000,"v":150},{"f":1100,"v":150},{"f":1200,"v":70},{"f":1400,"v":330},{"f":1500,"v":480},{"f":1600,"v":300},{"f":1700,"v":150},{"f":1800,"v":50},{"f":2000,"v":400},{"f":2100,"v":580},{"f":2300,"v":300},{"f":2400,"v":180},{"f":2600,"v":450},{"f":2800,"v":580},{"f":3000,"v":500},{"f":3200,"v":400},{"f":3400,"v":300},{"f":3600,"v":130},{"f":3700,"v":200},{"f":3800,"v":80},{"f":3900,"v":200},{"f":4000,"v":400},{"f":4200,"v":500},{"f":4300,"v":300},{"f":4400,"v":50},{"f":4700,"v":30},{"f":4900,"v":0},{"f":5100,"v":150},{"f":5300,"v":280},{"f":5500,"v":150},{"f":5600,"v":100},{"f":5800,"v":350},{"f":6000,"v":420},{"f":6100,"v":300},{"f":6200,"v":100},{"f":6300,"v":150},{"f":6400,"v":0},{"f":6500,"v":50},{"f":6600,"v":0},{"f":6800,"v":150},{"f":7000,"v":250},{"f":7200,"v":380},{"f":7400,"v":350},{"f":7600,"v":300},{"f":7800,"v":550}],
"bV6":[{"f":200,"v":150},{"f":400,"v":200},{"f":600,"v":100},{"f":700,"v":250},{"f":800,"v":150},{"f":1000,"v":150},{"f":1200,"v":300},{"f":1300,"v":150},{"f":1500,"v":50},{"f":1700,"v":30},{"f":2000,"v":100},{"f":2300,"v":550},{"f":2600,"v":200},{"f":2700,"v":100},{"f":3000,"v":450},{"f":3200,"v":200},{"f":3400,"v":400},{"f":3600,"v":400},{"f":3900,"v":350},{"f":4200,"v":800},{"f":4600,"v":1300},{"f":5000,"v":1900},{"f":5400,"v":2500},{"f":5800,"v":2950},{"f":6200,"v":2600},{"f":6600,"v":1900},{"f":7000,"v":1300},{"f":7400,"v":800},{"f":7700,"v":500},{"f":7800,"v":450}],
"aF0":[{"f":0,"u":0},{"f":110,"u":1},{"f":220,"u":0},{"f":330,"u":1},{"f":440,"u":0},{"f":550,"u":1},{"f":660,"u":0},{"f":770,"u":1},{"f":880,"u":0},{"f":990,"u":1},{"f":1100,"u":0},{"f":1210,"u":1},{"f":1320,"u":0},{"f":1430,"u":1},{"f":1540,"u":0},{"f":1650,"u":1},{"f":1760,"u":0},{"f":1870,"u":1},{"f":1980,"u":0},{"f":2090,"u":1},{"f":2200,"u":0},{"f":2320,"u":1},{"f":2450,"u":0},{"f":2700,"u":1},{"f":2950,"u":0},{"f":3200,"u":1},{"f":3450,"u":0},{"f":3700,"u":1},{"f":3950,"u":0},{"f":4330,"u":1},{"f":5220,"u":0},{"f":5500,"u":1},{"f":5780,"u":0},{"f":6100,"u":1},{"f":8000,"u":0,"s":1}],
"aF2":[{"f":100,"u":1},{"f":250,"u":0},{"f":400,"u":1},{"f":550,"u":0},{"f":700,"u":1},{"f":850,"u":0},{"f":1000,"u":1},{"f":1150,"u":0},{"f":1300,"u":1},{"f":1450,"u":0},{"f":1600,"u":1},{"f":1750,"u":0},{"f":1900,"u":1},{"f":2050,"u":0},{"f":2200,"u":1},{"f":2350,"u":0},{"f":2500,"u":1},{"f":2650,"u":0},{"f":2800,"u":1},{"f":2950,"u":0},{"f":3100,"u":1},{"f":3250,"u":0},{"f":3400,"u":1},{"f":3550,"u":0},{"f":3700,"u":1},{"f":3850,"u":0},{"f":4000,"u":1},{"f":4150,"u":0},{"f":4300,"u":1},{"f":4450,"u":0},{"f":4600,"u":1},{"f":4750,"u":0},{"f":4900,"u":1},{"f":5050,"u":0},{"f":5200,"u":1},{"f":5350,"u":0},{"f":5500,"u":1},{"f":5650,"u":0},{"f":5800,"u":1},{"f":5950,"u":0},{"f":6100,"u":1},{"f":6250,"u":0},{"f":6400,"u":1},{"f":6550,"u":0},{"f":6700,"u":1},{"f":8000,"u":0,"s":1}],
"aF4":[{"f":0,"u":0},{"f":100,"u":1},{"f":200,"u":0},{"f":300,"u":1},{"f":400,"u":0},{"f":500,"u":1},{"f":600,"u":0},{"f":700,"u":1},{"f":800,"u":0},{"f":900,"u":1},{"f":1000,"u":0},{"f":1200,"u":1},{"f":1400,"u":0},{"f":1600,"u":1},{"f":1800,"u":0},{"f":2000,"u":1},{"f":2150,"u":0},{"f":2300,"u":1},{"f":2450,"u":0},{"f":2600,"u":1},{"f":2750,"u":0},{"f":2900,"u":1},{"f":3050,"u":0},{"f":3250,"u":1},{"f":3450,"u":0},{"f":3650,"u":1},{"f":3850,"u":0},{"f":4050,"u":1},{"f":4250,"u":0},{"f":4400,"u":1},{"f":4510,"u":0},{"f":4620,"u":1},{"f":4730,"u":0},{"f":4840,"u":1},{"f":4950,"u":0},{"f":5060,"u":1},{"f":5170,"u":0},{"f":5280,"u":1},{"f":5430,"u":0},{"f":5590,"u":1},{"f":6260,"u":0},{"f":7040,"u":1},{"f":7150,"u":0},{"f":7260,"u":1},{"f":7380,"u":0},{"f":7490,"u":1},{"f":8000,"u":0}],
"aF6":[{"f":0,"u":0},{"f":380,"u":1},{"f":480,"u":0},{"f":580,"u":1},{"f":680,"u":0},{"f":780,"u":1},{"f":880,"u":0},{"f":980,"u":1},{"f":1080,"u":0},{"f":1180,"u":1},{"f":1280,"u":0},{"f":1380,"u":1},{"f":1480,"u":0},{"f":1580,"u":1},{"f":1680,"u":0},{"f":1780,"u":1},{"f":1880,"u":0},{"f":1980,"u":1},{"f":2080,"u":0},{"f":2170,"u":1},{"f":2370,"u":0},{"f":2570,"u":1},{"f":2770,"u":0},{"f":2970,"u":1},{"f":3170,"u":0},{"f":3370,"u":1},{"f":3570,"u":0},{"f":3770,"u":1},{"f":3970,"u":0},{"f":4090,"u":1},{"f":4210,"u":0},{"f":4330,"u":1},{"f":4450,"u":0},{"f":4570,"u":1},{"f":4690,"u":0},{"f":4810,"u":1},{"f":4930,"u":0},{"f":5050,"u":1},{"f":5170,"u":0},{"f":5290,"u":1},{"f":5410,"u":0},{"f":5530,"u":1},{"f":5650,"u":0},{"f":5760,"u":1},{"f":5870,"u":0},{"f":6200,"u":1},{"f":6500,"u":0},{"f":6800,"u":1},{"f":7100,"u":0},{"f":7300,"u":1},{"f":7450,"u":0},{"f":8000,"u":1}],
"aP0":[{"f":0,"u":0},{"f":150,"u":1},{"f":260,"u":0},{"f":370,"u":1},{"f":480,"u":0},{"f":590,"u":1},{"f":700,"u":0},{"f":810,"u":1},{"f":920,"u":0},{"f":1030,"u":1},{"f":1140,"u":0},{"f":1250,"u":1},{"f":1360,"u":0},{"f":1470,"u":1},{"f":1600,"u":0},{"f":1730,"u":1},{"f":1840,"u":0},{"f":1950,"u":1},{"f":2060,"u":0},{"f":2170,"u":1},{"f":2280,"u":0},{"f":2390,"u":1},{"f":2500,"u":0},{"f":2610,"u":1},{"f":2720,"u":0},{"f":2830,"u":1},{"f":2940,"u":0},{"f":3050,"u":1},{"f":3160,"u":0},{"f":3270,"u":1},{"f":3380,"u":0},{"f":3490,"u":1},{"f":3600,"u":0},{"f":3710,"u":1},{"f":3850,"u":0},{"f":4000,"u":1},{"f":4110,"u":0},{"f":4220,"u":1},{"f":4330,"u":0},{"f":4440,"u":1},{"f":4550,"u":0},{"f":4660,"u":1},{"f":4770,"u":0},{"f":4880,"u":1},{"f":4990,"u":0},{"f":5100,"u":1},{"f":5210,"u":0},{"f":5320,"u":1},{"f":5450,"u":0},{"f":5600,"u":1},{"f":5750,"u":0},{"f":5860,"u":1},{"f":5970,"u":0},{"f":6080,"u":1},{"f":6190,"u":0},{"f":6300,"u":1},{"f":6410,"u":0},{"f":6520,"u":1},{"f":6630,"u":0},{"f":6740,"u":1},{"f":6870,"u":0},{"f":7000,"u":1},{"f":7150,"u":0},{"f":7300,"u":1},{"f":7450,"u":0},{"f":7600,"u":1},{"f":7710,"u":0},{"f":7820,"u":1},{"f":7930,"u":0},{"f":8000,"u":1}],
"aP2":[{"f":100,"u":0,"s":1},{"f":400,"u":1},{"f":510,"u":0},{"f":620,"u":1},{"f":730,"u":0},{"f":840,"u":1},{"f":950,"u":0},{"f":1060,"u":1},{"f":1170,"u":0},{"f":1280,"u":1},{"f":1390,"u":0},{"f":1500,"u":1},{"f":1610,"u":0},{"f":1720,"u":1},{"f":1830,"u":0},{"f":1980,"u":1},{"f":2130,"u":0},{"f":2280,"u":1},{"f":2430,"u":0},{"f":2580,"u":1},{"f":2700,"u":0},{"f":2850,"u":1},{"f":2960,"u":0},{"f":3070,"u":1},{"f":3180,"u":0},{"f":3290,"u":1},{"f":3400,"u":0},{"f":3510,"u":1},{"f":3620,"u":0},{"f":3730,"u":1},{"f":3840,"u":0},{"f":3950,"u":1},{"f":4060,"u":0},{"f":4170,"u":1},{"f":4300,"u":0},{"f":4410,"u":1},{"f":4520,"u":0},{"f":4630,"u":1},{"f":4740,"u":0},{"f":4850,"u":1},{"f":4960,"u":0},{"f":5070,"u":1},{"f":5180,"u":0},{"f":5290,"u":1},{"f":5400,"u":0},{"f":5510,"u":1},{"f":5620,"u":0},{"f":5730,"u":1},{"f":5840,"u":0},{"f":5950,"u":1},{"f":6060,"u":0},{"f":6170,"u":1},{"f":6280,"u":0},{"f":6390,"u":1},{"f":6500,"u":0},{"f":6610,"u":1},{"f":6720,"u":0},{"f":6830,"u":1},{"f":6940,"u":0},{"f":7050,"u":1},{"f":7160,"u":0},{"f":7270,"u":1},{"f":7380,"u":0},{"f":7490,"u":1},{"f":7600,"u":0},{"f":7710,"u":1},{"f":7820,"u":0},{"f":7930,"u":1},{"f":8000,"u":0}],
"aP4":[{"f":0,"u":0,"s":1},{"f":180,"u":1},{"f":290,"u":0},{"f":400,"u":1},{"f":510,"u":0},{"f":620,"u":1},{"f":760,"u":0},{"f":870,"u":1},{"f":980,"u":0},{"f":1090,"u":1},{"f":1200,"u":0},{"f":1340,"u":1},{"f":1450,"u":0},{"f":1560,"u":1},{"f":1670,"u":0},{"f":1780,"u":1},{"f":1900,"u":0},{"f":2040,"u":1},{"f":2150,"u":0},{"f":2260,"u":1},{"f":2370,"u":0},{"f":2480,"u":1},{"f":2590,"u":0},{"f":2700,"u":1},{"f":2810,"u":0},{"f":2920,"u":1},{"f":3030,"u":0},{"f":3140,"u":1},{"f":3250,"u":0},{"f":3360,"u":1},{"f":3470,"u":0},{"f":3580,"u":1},{"f":3690,"u":0},{"f":3800,"u":1},{"f":3950,"u":0},{"f":4100,"u":1},{"f":4210,"u":0},{"f":4350,"u":1},{"f":4480,"u":0},{"f":5050,"u":1},{"f":5650,"u":0},{"f":5800,"u":1},{"f":5910,"u":0},{"f":6020,"u":1},{"f":6130,"u":0},{"f":6240,"u":1},{"f":6350,"u":0},{"f":6460,"u":1},{"f":6570,"u":0},{"f":6700,"u":1},{"f":6830,"u":0},{"f":6940,"u":1},{"f":7050,"u":0},{"f":7160,"u":1},{"f":7270,"u":0},{"f":7380,"u":1},{"f":7500,"u":0},{"f":7630,"u":1},{"f":7740,"u":0},{"f":7850,"u":1},{"f":8000,"u":0}],
"aP6":[{"f":0,"u":0},{"f":100,"u":1},{"f":200,"u":0},{"f":300,"u":1},{"f":420,"u":0},{"f":520,"u":1},{"f":620,"u":0},{"f":720,"u":1},{"f":820,"u":0},{"f":920,"u":1},{"f":1030,"u":0},{"f":1130,"u":1},{"f":1230,"u":0},{"f":1330,"u":1},{"f":1430,"u":0},{"f":1530,"u":1},{"f":1630,"u":0},{"f":1730,"u":1},{"f":1860,"u":0},{"f":1960,"u":1},{"f":2060,"u":0},{"f":2160,"u":1},{"f":2260,"u":0},{"f":2360,"u":1},{"f":2460,"u":0},{"f":2560,"u":1},{"f":2660,"u":0},{"f":2760,"u":1},{"f":2860,"u":0},{"f":2960,"u":1},{"f":3060,"u":0},{"f":3160,"u":1},{"f":3260,"u":0},{"f":3360,"u":1},{"f":3460,"u":0},{"f":3560,"u":1},{"f":3660,"u":0},{"f":3760,"u":1},{"f":3860,"u":0},{"f":3960,"u":1},{"f":4060,"u":0},{"f":4160,"u":1},{"f":4260,"u":0},{"f":4360,"u":1},{"f":4460,"u":0},{"f":4560,"u":1},{"f":4660,"u":0},{"f":4760,"u":1},{"f":4860,"u":0},{"f":4960,"u":1},{"f":5060,"u":0},{"f":5160,"u":1},{"f":5260,"u":0},{"f":5360,"u":1},{"f":5460,"u":0},{"f":5560,"u":1},{"f":5660,"u":0},{"f":5760,"u":1},{"f":5860,"u":0},{"f":5960,"u":1},{"f":6100,"u":0},{"f":6200,"u":1},{"f":6300,"u":0},{"f":6400,"u":1},{"f":6500,"u":0},{"f":6600,"u":1},{"f":6700,"u":0},{"f":6800,"u":1},{"f":6900,"u":0},{"f":7000,"u":1},{"f":7100,"u":0},{"f":7200,"u":1},{"f":7300,"u":0},{"f":7400,"u":1},{"f":7500,"u":0},{"f":7600,"u":1},{"f":7700,"u":0},{"f":7800,"u":1},{"f":7900,"u":0},{"f":8000,"u":1}],
"aS0":[{"f":0,"u":0},{"f":110,"u":1},{"f":220,"u":0},{"f":330,"u":1},{"f":440,"u":0},{"f":550,"u":1},{"f":660,"u":0},{"f":770,"u":1},{"f":880,"u":0},{"f":990,"u":1},{"f":1100,"u":0},{"f":1210,"u":1},{"f":1320,"u":0},{"f":1430,"u":1},{"f":1540,"u":0},{"f":1650,"u":1},{"f":1760,"u":0},{"f":1870,"u":1},{"f":1980,"u":0},{"f":2090,"u":1},{"f":2220,"u":0},{"f":2340,"u":1},{"f":2450,"u":0},{"f":2560,"u":1},{"f":2670,"u":0},{"f":2780,"u":1},{"f":2890,"u":0},{"f":3000,"u":1},{"f":3110,"u":0},{"f":3220,"u":1},{"f":3330,"u":0},{"f":3440,"u":1},{"f":3550,"u":0},{"f":3680,"u":1},{"f":3790,"u":0},{"f":3900,"u":1},{"f":4010,"u":0},{"f":4120,"u":1},{"f":4230,"u":0},{"f":4350,"u":1},{"f":4480,"u":0},{"f":4600,"u":1},{"f":4710,"u":0},{"f":4820,"u":1},{"f":4930,"u":0},{"f":5040,"u":1},{"f":5150,"u":0},{"f":5260,"u":1},{"f":5380,"u":0},{"f":5500,"u":1},{"f":5620,"u":0},{"f":5730,"u":1},{"f":5840,"u":0},{"f":5950,"u":1},{"f":6080,"u":0},{"f":6190,"u":1},{"f":6300,"u":0},{"f":6410,"u":1},{"f":6520,"u":0},{"f":6630,"u":1},{"f":6740,"u":0},{"f":6850,"u":1},{"f":6960,"u":0},{"f":7070,"u":1},{"f":7180,"u":0},{"f":7290,"u":1},{"f":7400,"u":0},{"f":7510,"u":1},{"f":7620,"u":0},{"f":7730,"u":1},{"f":7840,"u":0},{"f":7950,"u":1},{"f":8000,"u":0}],
"aS2":[{"f":80,"u":0},{"f":420,"u":1},{"f":730,"u":0},{"f":1060,"u":1},{"f":1300,"u":0},{"f":1410,"u":1},{"f":1520,"u":0},{"f":1630,"u":1},{"f":1740,"u":0},{"f":1850,"u":1},{"f":1960,"u":0},{"f":2070,"u":1},{"f":2180,"u":0},{"f":2290,"u":1},{"f":2400,"u":0},{"f":2510,"u":1},{"f":2620,"u":0},{"f":2730,"u":1},{"f":2840,"u":0},{"f":2950,"u":1},{"f":3060,"u":0},{"f":3170,"u":1},{"f":3280,"u":0},{"f":3390,"u":1},{"f":3500,"u":0},{"f":3610,"u":1},{"f":3720,"u":0},{"f":3830,"u":1},{"f":3940,"u":0},{"f":4050,"u":1},{"f":4160,"u":0},{"f":4270,"u":1},{"f":4380,"u":0},{"f":4490,"u":1},{"f":4600,"u":0},{"f":4710,"u":1},{"f":4820,"u":0},{"f":4930,"u":1},{"f":5040,"u":0},{"f":5150,"u":1},{"f":5300,"u":0},{"f":5410,"u":1},{"f":5520,"u":0},{"f":5630,"u":1},{"f":5740,"u":0},{"f":5850,"u":1},{"f":5960,"u":0},{"f":6070,"u":1},{"f":6180,"u":0},{"f":6290,"u":1},{"f":6400,"u":0},{"f":6510,"u":1},{"f":6620,"u":0},{"f":6730,"u":1},{"f":6840,"u":0},{"f":6950,"u":1},{"f":7060,"u":0},{"f":7170,"u":1},{"f":7280,"u":0},{"f":7390,"u":1},{"f":7500,"u":0},{"f":7610,"u":1},{"f":7720,"u":0},{"f":7830,"u":1},{"f":7940,"u":0},{"f":8000,"u":1}],
"aS4":[{"f":0,"u":0},{"f":100,"u":1},{"f":200,"u":0},{"f":300,"u":1},{"f":400,"u":0},{"f":500,"u":1},{"f":600,"u":0},{"f":700,"u":1},{"f":950,"u":0},{"f":1200,"u":1},{"f":1450,"u":0},{"f":1700,"u":1},{"f":1950,"u":0},{"f":2200,"u":1},{"f":2450,"u":0},{"f":2700,"u":1},{"f":2870,"u":0},{"f":3040,"u":1},{"f":3210,"u":0},{"f":3380,"u":1},{"f":3550,"u":0},{"f":3720,"u":1},{"f":3890,"u":0},{"f":4000,"u":1},{"f":4110,"u":0},{"f":4220,"u":1},{"f":4330,"u":0},{"f":4440,"u":1},{"f":4550,"u":0},{"f":4660,"u":1},{"f":4770,"u":0},{"f":4880,"u":1},{"f":4990,"u":0},{"f":5100,"u":1},{"f":5210,"u":0},{"f":5320,"u":1},{"f":5430,"u":0},{"f":5540,"u":1},{"f":5650,"u":0},{"f":5760,"u":1},{"f":5870,"u":0},{"f":5980,"u":1},{"f":6090,"u":0},{"f":6260,"u":1},{"f":6550,"u":0},{"f":6840,"u":1},{"f":7130,"u":0},{"f":7420,"u":1},{"f":7710,"u":0},{"f":8000,"u":1}],
"aS6":[{"f":0,"u":0},{"f":110,"u":1},{"f":220,"u":0},{"f":330,"u":1},{"f":440,"u":0},{"f":550,"u":1},{"f":660,"u":0},{"f":770,"u":1},{"f":880,"u":0},{"f":990,"u":1},{"f":1100,"u":0},{"f":1210,"u":1},{"f":1320,"u":0},{"f":1430,"u":1},{"f":1540,"u":0},{"f":1650,"u":1},{"f":1760,"u":0},{"f":1870,"u":1},{"f":1980,"u":0},{"f":2170,"u":1},{"f":2370,"u":0},{"f":2570,"u":1},{"f":2770,"u":0},{"f":2970,"u":1},{"f":3170,"u":0},{"f":3370,"u":1},{"f":3570,"u":0},{"f":3770,"u":1},{"f":3970,"u":0},{"f":4090,"u":1},{"f":4210,"u":0},{"f":4330,"u":1},{"f":4450,"u":0},{"f":4570,"u":1},{"f":4690,"u":0},{"f":4810,"u":1},{"f":4930,"u":0},{"f":5050,"u":1},{"f":5170,"u":0},{"f":5290,"u":1},{"f":5410,"u":0},{"f":5530,"u":1},{"f":5650,"u":0},{"f":5770,"u":1},{"f":5890,"u":0},{"f":6010,"u":1},{"f":6130,"u":0},{"f":6250,"u":1},{"f":6430,"u":0},{"f":6750,"u":1},{"f":7070,"u":0},{"f":7380,"u":1},{"f":7700,"u":0},{"f":8000,"u":1}],
"aV0":[{"f":0,"u":0,"s":1},{"f":330,"u":1},{"f":440,"u":0},{"f":550,"u":1},{"f":660,"u":0},{"f":770,"u":1},{"f":880,"u":0},{"f":990,"u":1},{"f":1100,"u":0},{"f":1210,"u":1},{"f":1320,"u":0},{"f":1430,"u":1},{"f":1540,"u":0},{"f":1650,"u":1},{"f":1760,"u":0},{"f":1870,"u":1},{"f":2000,"u":0},{"f":2150,"u":1},{"f":2300,"u":0},{"f":2500,"u":1},{"f":2700,"u":0},{"f":2850,"u":1},{"f":2960,"u":0},{"f":3070,"u":1},{"f":3180,"u":0},{"f":3290,"u":1},{"f":3400,"u":0},{"f":3510,"u":1},{"f":3620,"u":0},{"f":3730,"u":1},{"f":3860,"u":0},{"f":3990,"u":1},{"f":4120,"u":0},{"f":4250,"u":1},{"f":4380,"u":0},{"f":4490,"u":1},{"f":4600,"u":0},{"f":4710,"u":1},{"f":4820,"u":0},{"f":4930,"u":1},{"f":5040,"u":0},{"f":5150,"u":1},{"f":5260,"u":0},{"f":5370,"u":1},{"f":5480,"u":0},{"f":5590,"u":1},{"f":5700,"u":0},{"f":5810,"u":1},{"f":5920,"u":0},{"f":6030,"u":1},{"f":6140,"u":0},{"f":6250,"u":1},{"f":6360,"u":0},{"f":6470,"u":1},{"f":6580,"u":0},{"f":6690,"u":1},{"f":6820,"u":0},{"f":6950,"u":1},{"f":7080,"u":0},{"f":7210,"u":1},{"f":7320,"u":0},{"f":7430,"u":1},{"f":7540,"u":0},{"f":7650,"u":1},{"f":7760,"u":0},{"f":7870,"u":1},{"f":8000,"u":0}],
"aV2":[{"f":0,"u":0},{"f":200,"u":1},{"f":400,"u":0},{"f":600,"u":1},{"f":720,"u":0},{"f":840,"u":1},{"f":960,"u":0},{"f":1080,"u":1},{"f":1200,"u":0},{"f":1320,"u":1},{"f":1440,"u":0},{"f":1560,"u":1},{"f":1680,"u":0},{"f":1800,"u":1},{"f":2000,"u":0},{"f":2200,"u":1},{"f":2400,"u":0},{"f":2700,"u":1},{"f":2830,"u":0},{"f":2960,"u":1},{"f":3090,"u":0},{"f":3210,"u":1},{"f":3330,"u":0},{"f":3550,"u":1},{"f":3770,"u":0},{"f":3880,"u":1},{"f":3990,"u":0},{"f":4100,"u":1},{"f":4210,"u":0},{"f":4320,"u":1},{"f":4440,"u":0},{"f":4660,"u":1},{"f":4880,"u":0},{"f":5000,"u":1},{"f":5120,"u":0},{"f":5240,"u":1},{"f":5360,"u":0},{"f":5480,"u":1},{"f":5600,"u":0},{"f":5800,"u":1},{"f":6000,"u":0},{"f":6200,"u":1},{"f":6320,"u":0},{"f":6440,"u":1},{"f":6560,"u":0},{"f":6680,"u":1},{"f":6800,"u":0},{"f":7040,"u":1},{"f":7250,"u":0},{"f":7550,"u":1,"s":1},{"f":8000,"u":0,"s":1}],
"aV4":[{"f":0,"u":0},{"f":100,"u":1},{"f":200,"u":0},{"f":300,"u":1},{"f":400,"u":0},{"f":500,"u":1},{"f":600,"u":0},{"f":700,"u":1},{"f":800,"u":0},{"f":900,"u":1},{"f":1000,"u":0},{"f":1200,"u":1},{"f":1400,"u":0},{"f":1600,"u":1},{"f":1800,"u":0},{"f":2000,"u":1},{"f":2120,"u":0},{"f":2240,"u":1},{"f":2350,"u":0},{"f":2570,"u":1},{"f":2790,"u":0},{"f":3010,"u":1},{"f":3230,"u":0},{"f":3450,"u":1},{"f":3670,"u":0},{"f":3890,"u":1},{"f":4000,"u":0},{"f":4110,"u":1},{"f":4220,"u":0},{"f":4330,"u":1},{"f":4440,"u":0},{"f":4550,"u":1},{"f":4660,"u":0},{"f":4770,"u":1},{"f":4880,"u":0},{"f":4990,"u":1},{"f":5100,"u":0},{"f":5210,"u":1},{"f":5320,"u":0},{"f":5430,"u":1},{"f":5540,"u":0},{"f":5650,"u":1},{"f":5760,"u":0},{"f":5870,"u":1},{"f":5980,"u":0},{"f":6090,"u":1},{"f":6200,"u":0},{"f":6310,"u":1},{"f":6420,"u":0},{"f":6530,"u":1},{"f":6640,"u":0},{"f":6750,"u":1},{"f":6860,"u":0},{"f":7000,"u":1},{"f":7230,"u":0},{"f":7460,"u":1},{"f":7700,"u":0},{"f":8000,"u":1}],
"aV6":[{"f":0,"u":0},{"f":110,"u":1},{"f":220,"u":0},{"f":330,"u":1},{"f":440,"u":0},{"f":550,"u":1},{"f":660,"u":0},{"f":770,"u":1},{"f":880,"u":0},{"f":990,"u":1},{"f":1100,"u":0},{"f":1210,"u":1},{"f":1320,"u":0},{"f":1430,"u":1},{"f":1540,"u":0},{"f":1650,"u":1},{"f":1760,"u":0},{"f":1870,"u":1},{"f":1980,"u":0},{"f":2200,"u":1},{"f":2425,"u":0},{"f":2650,"u":1},{"f":2875,"u":0},{"f":3100,"u":1},{"f":3325,"u":0},{"f":3550,"u":1},{"f":3775,"u":0},{"f":4000,"u":1},{"f":4530,"u":0},{"f":5130,"u":1},{"f":7220,"u":0},{"f":7550,"u":1},{"f":8000,"u":0}]
},
"config":{
"numberFormat":"d",
"view":{"continuousWidth":120,"continuousHeight":29.5,"stroke":"#4d4d4d","strokeWidth":0.8},
"axis":{"labelFont":"DejaVu Sans","labelFontSize":10,"labelColor":"#404040","titleFont":"DejaVu Sans","titleFontSize":10,"titleFontWeight":"normal","titleColor":"#404040","domain":false,"ticks":false,"grid":false,"labelPadding":3,"titlePadding":3,"labelFlush":false,"labelOverlap":false,"labelBound":false},
"axisY":{"titlePadding":0},
"axisTop":{"labels":false,"titleFontWeight":"bold","titleFontSize":9,"titleColor":"#000","titlePadding":1}
}
}
